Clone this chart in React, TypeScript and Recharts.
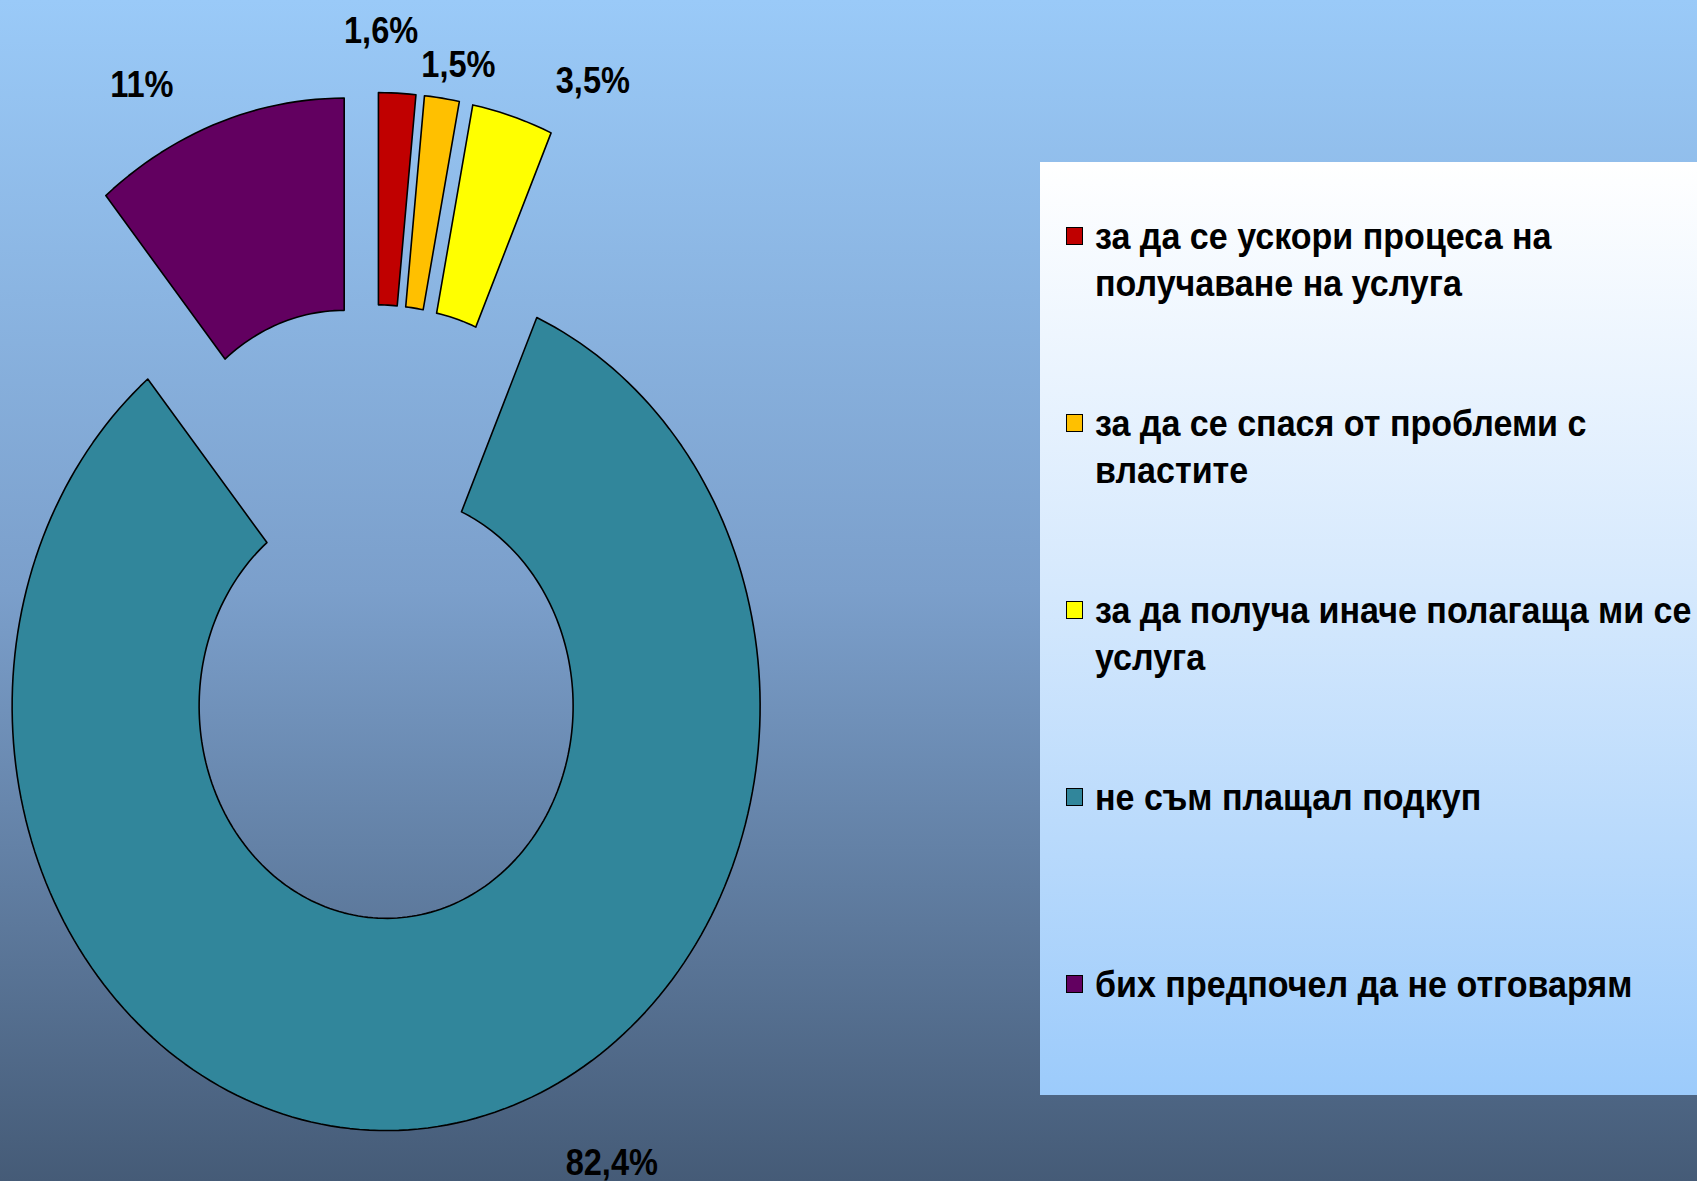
import { PieChart, Pie, Cell, Legend, Tooltip } from "recharts";

// survey answers, clockwise from 12 o'clock
const categories = [
  "за да се ускори процеса на получаване на услуга",
  "за да се спася от проблеми с властите",
  "за да получа иначе полагаща ми се услуга",
  "не съм плащал подкуп",
  "бих предпочел да не отговарям",
];
const shares = [1.6, 1.5, 3.5, 82.4, 11];
const colors = ["#C00000", "#FFC000", "#FFFF00", "#31869B", "#620060"];

// hand nudges for the value labels (px), they were dragged in the original
const labelNudge = [
  [-18, -21],
  [11, 8],
  [69, 4],
  [169, -7],
  [-63, 0],
];

const data = categories.map((name, i) => ({ name, value: shares[i] }));

const W = 1697;
const H = 1181;
const STRETCH = 1.135; // slide was squeezed sideways, so the ring is taller than wide
const EXPLODE_X = 88;
const EXPLODE_Y = 95;
const RAD = Math.PI / 180;
const FONT = "'Liberation Sans', Arial, sans-serif";
const LEGEND_SQUEEZE = 0.92;

const explode = (mid: number) => ({
  dx: EXPLODE_X * Math.cos(-mid * RAD),
  dy: EXPLODE_Y * Math.sin(-mid * RAD),
});

const fmt = (v: number) => String(v).replace(".", ",") + "%";

const EllipseSector = (props: any) => {
  const { cx, cy, innerRadius, outerRadius, startAngle, endAngle, fill } = props;
  const mid = (startAngle + endAngle) / 2;
  const { dx, dy } = explode(mid);
  const ox = cx + dx;
  const oy = cy + dy;
  const steps = Math.max(6, Math.ceil(Math.abs(endAngle - startAngle) / 1.5));
  const pt = (r: number, a: number) =>
    `${(ox + r * Math.cos(-a * RAD)).toFixed(2)},${(oy + STRETCH * r * Math.sin(-a * RAD)).toFixed(2)}`;
  const outer: string[] = [];
  const inner: string[] = [];
  for (let i = 0; i <= steps; i++) {
    const a = startAngle + ((endAngle - startAngle) * i) / steps;
    outer.push(pt(outerRadius, a));
    inner.unshift(pt(innerRadius, a));
  }
  return (
    <path
      d={`M${outer.join("L")}L${inner.join("L")}Z`}
      fill={fill}
      stroke="#000"
      strokeWidth={1.6}
      strokeLinejoin="round"
    />
  );
};

const renderLabel = (props: any) => {
  const { cx, cy, outerRadius, midAngle, index, value } = props;
  const { dx, dy } = explode(midAngle);
  const r = outerRadius * 1.1;
  const x = cx + dx + r * Math.cos(-midAngle * RAD) + labelNudge[index][0];
  const y = cy + dy + STRETCH * r * Math.sin(-midAngle * RAD) + labelNudge[index][1];
  return (
    <text
      x={x}
      y={y}
      textAnchor="middle"
      dominantBaseline="central"
      fill="#000"
      fontFamily={FONT}
      fontWeight="bold"
      fontSize={37}
      transform={`translate(${x} ${y}) scale(0.88 1) translate(${-x} ${-y})`}
    >
      {fmt(value)}
    </text>
  );
};

const LegendBox = () => (
  <div
    style={{
      position: "relative",
      width: 657,
      height: 933,
      background: "linear-gradient(to bottom, #ffffff 0%, #d6e9fd 45%, #9ccbfb 100%)",
    }}
  >
    {categories.map((name, i) => {
      const lineMid = 74 + i * 187;
      return (
        <div key={name}>
          <div
            style={{
              position: "absolute",
              left: 26,
              top: lineMid - 9,
              width: 15,
              height: 16,
              background: colors[i],
              border: "1.5px solid #000",
            }}
          />
          <div
            style={{
              position: "absolute",
              left: 55,
              top: lineMid - 23.5,
              width: 602 / LEGEND_SQUEEZE,
              transform: `scaleX(${LEGEND_SQUEEZE})`,
              transformOrigin: "left top",
              fontFamily: FONT,
              fontWeight: "bold",
              fontSize: 37,
              lineHeight: "47px",
              color: "#000",
            }}
          >
            {name}
          </div>
        </div>
      );
    })}
  </div>
);

export default function App() {
  return (
    <div
      style={{
        position: "absolute",
        left: 0,
        top: 0,
        width: W,
        height: H,
        overflow: "hidden",
        background: "linear-gradient(to bottom, #9acaf8 0%, #7b9fcb 50%, #455b77 100%)",
      }}
    >
      <PieChart width={W} height={H} margin={{ top: 0, right: 0, bottom: 0, left: 0 }}>
        <Pie
          data={data}
          dataKey="value"
          nameKey="name"
          cx={374}
          cy={612}
          outerRadius={374}
          innerRadius={187}
          startAngle={90}
          endAngle={-270}
          isAnimationActive={false}
          label={renderLabel}
          labelLine={false}
          activeShape={EllipseSector}
          inactiveShape={EllipseSector}
          {...({ shape: EllipseSector } as any)}
        >
          {data.map((entry, i) => (
            <Cell key={entry.name} fill={colors[i]} />
          ))}
        </Pie>
        <Tooltip defaultIndex={0} content={() => null} cursor={false} />
        <Legend
          layout="vertical"
          align="right"
          verticalAlign="middle"
          content={() => <LegendBox />}
          wrapperStyle={{ left: 1040, top: 162, width: 657, height: 933 }}
        />
      </PieChart>
    </div>
  );
}
